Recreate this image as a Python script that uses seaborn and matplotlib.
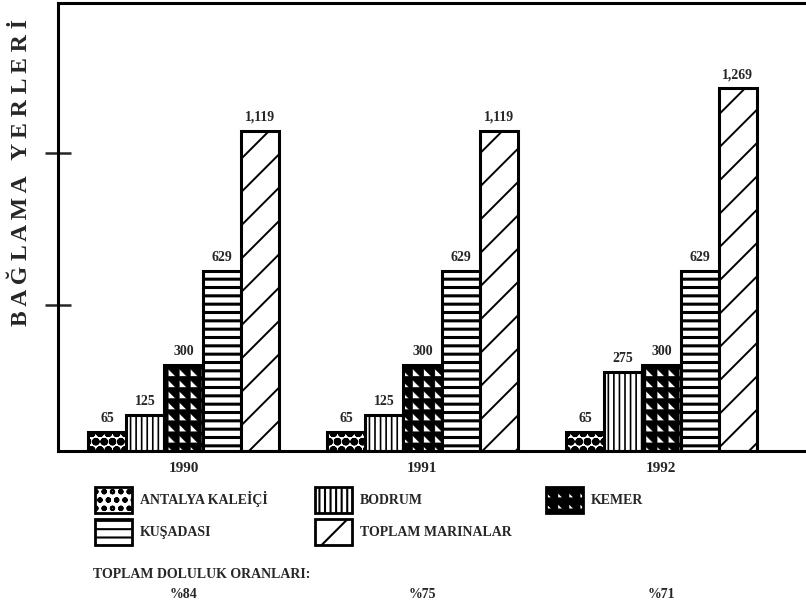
import numpy as np
import pandas as pd
import matplotlib
matplotlib.use("Agg")
import matplotlib.pyplot as plt
import matplotlib.hatch as mhatch
from matplotlib.path import Path
from matplotlib.patches import Patch
from matplotlib.transforms import blended_transform_factory
import seaborn as sns

# Mooring capacity of Turkish marinas, 1990-1992
years = ["1990", "1991", "1992"]
marinas = ["ANTALYA KALEİÇİ", "BODRUM", "KEMER", "KUŞADASI", "TOPLAM MARINALAR"]
antalya = [65, 65, 65]
bodrum = [125, 125, 275]
kemer = [300, 300, 300]
kusadasi = [629, 629, 629]
toplam = [1119, 1119, 1269]
occupancy = ["%84", "%75", "%71"]
y_title = "BAĞLAMA YERLERİ"
occupancy_title = "TOPLAM DOLULUK ORANLARI:"

series = [antalya, bodrum, kemer, kusadasi, toplam]
rows = [(y, m, vals[i]) for m, vals in zip(marinas, series) for i, y in enumerate(years)]
df = pd.DataFrame(rows, columns=["year", "marina", "value"])


class NotchedGrid(mhatch.HatchPatternBase):
    """Solid fill pierced by a grid of small right-triangle holes ('*')."""

    def __init__(self, hatch, density):
        self.num_rows = int(hatch.count("*") * density * 1.5)
        n = self.num_rows
        self.num_vertices = (5 + 4 * n * n) if n else 0

    def set_vertices_and_codes(self, vertices, codes):
        n = self.num_rows
        step = 1.0 / n
        # outer square, counter-clockwise
        verts = [[(0, 0), (1, 0), (1, 1), (0, 1), (0, 0)]]
        cds = [[Path.MOVETO, Path.LINETO, Path.LINETO, Path.LINETO, Path.CLOSEPOLY]]
        lo, hi = 0.14, 0.80
        for r in range(n):
            for c in range(n):
                x0, y0 = c * step, r * step
                # clockwise triangle -> hole under the non-zero rule
                tri = [(x0 + lo * step, y0 + lo * step),
                       (x0 + lo * step, y0 + hi * step),
                       (x0 + hi * step, y0 + lo * step),
                       (x0 + lo * step, y0 + lo * step)]
                verts.append(tri)
                cds.append([Path.MOVETO, Path.LINETO, Path.LINETO, Path.CLOSEPOLY])
        vertices[:] = np.concatenate([np.asarray(v, float) for v in verts])
        codes[:] = np.concatenate([np.asarray(c) for c in cds])


# '*' is taken over by the notched grid pattern
mhatch._hatch_types = [t for t in mhatch._hatch_types if t is not mhatch.Stars] + [NotchedGrid]

hatches = ["oo", "|||", "*", "--", "/"]
hatch_lw = [3.0, 1.2, 0.3, 2.2, 1.4]

sns.set_style("white")
plt.rcParams["font.family"] = ["Liberation Serif", "DejaVu Serif"]
plt.rcParams["font.weight"] = "bold"
plt.rcParams["hatch.linewidth"] = 1.5
plt.rcParams["hatch.color"] = "black"

W, H = 806, 609
fig = plt.figure(figsize=(W / 100, H / 100), dpi=100)
ax = fig.add_axes([58 / W, 158 / H, 748 / W, 448 / H])

sns.barplot(data=df, x="year", y="value", hue="marina", order=years,
            hue_order=marinas, palette=["white"] * 5, saturation=1,
            edgecolor="black", linewidth=2.2, width=0.8, gap=0,
            errorbar=None, legend=False, ax=ax)

for cont, h, lw in zip(ax.containers, hatches, hatch_lw):
    for bar in cont:
        bar.set_hatch(h)
        if hasattr(bar, "set_hatch_linewidth"):
            bar.set_hatch_linewidth(lw)
    ax.bar_label(cont, fmt="{:,.0f}", padding=5, fontsize=10, fontweight="bold")

ax.set_xlim(-0.525, 2.605)
ax.set_ylim(0, 1566)
ax.set_yticks([510, 1040])
ax.set_yticklabels([])
ax.tick_params(axis="y", direction="inout", length=19, width=1.8, left=True)
ax.tick_params(axis="x", length=0, pad=8, labelsize=11)
ax.set_xlabel("")
for s in ["left", "top", "bottom"]:
    ax.spines[s].set_linewidth(2.2)
    ax.spines[s].set_color("black")
ax.spines["right"].set_linewidth(0.6)
ax.spines["right"].set_color("black")

spaced = "   ".join(" ".join(w) for w in y_title.split())
ax.set_ylabel(spaced, fontsize=17, fontweight="bold", ha="left", va="center")
ax.yaxis.set_label_coords(-0.0488, 0.28)

# legend laid out in three columns below the plot
columns = [[0, 3], [1, 4], [2]]
col_x = [95, 315, 546]
for idx, x in zip(columns, col_x):
    handles = []
    for i in idx:
        p = Patch(facecolor="white", edgecolor="black", hatch=hatches[i], linewidth=2.0)
        if hasattr(p, "set_hatch_linewidth"):
            p.set_hatch_linewidth(hatch_lw[i])
        handles.append(p)
    fig.legend(handles=handles, labels=[marinas[i] for i in idx],
               loc="upper left", bbox_to_anchor=(x / W, 1 - 487 / H),
               frameon=False, fontsize=10, handlelength=2.66, handleheight=2.5,
               handletextpad=0.58, labelspacing=0.45, borderpad=0,
               borderaxespad=0)

fig.text(93 / W, 1 - 575 / H, occupancy_title, fontsize=10, va="center", ha="left")
trans = blended_transform_factory(ax.transData, fig.transFigure)
for i, t in enumerate(occupancy):
    ax.text(i, 1 - 594 / H, t, transform=trans, ha="center", va="center",
            fontsize=10, clip_on=False)

fig.savefig("out.png", dpi=100)
